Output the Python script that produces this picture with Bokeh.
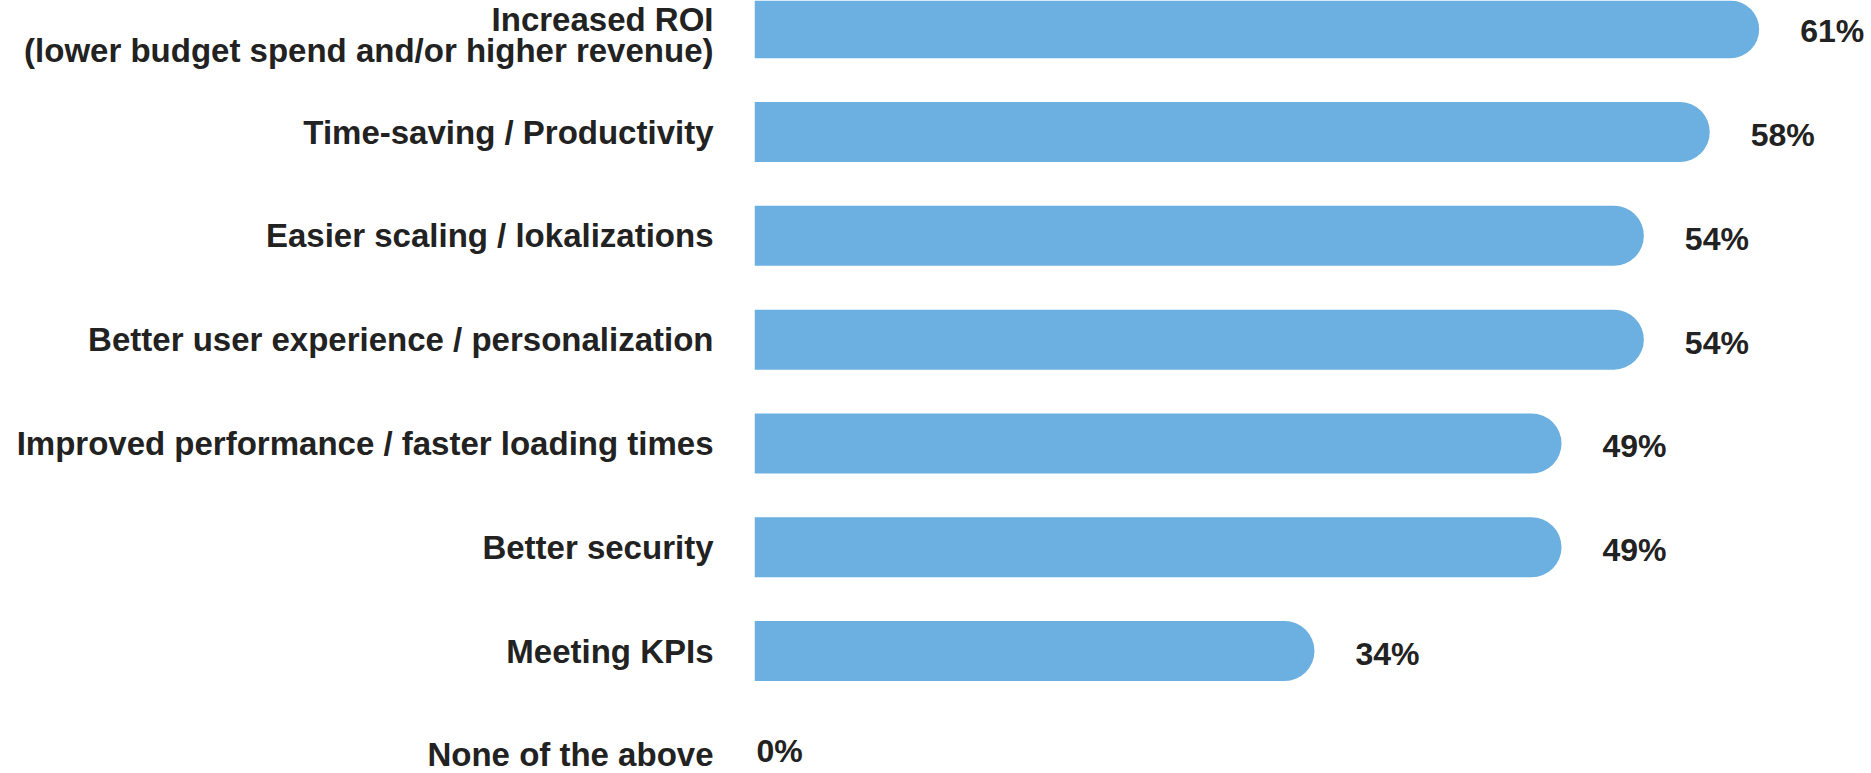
from bokeh.plotting import figure
from bokeh.models import ColumnDataSource, Range1d, FixedTicker
from bokeh.core.properties import value
from bokeh.embed import file_html
from bokeh.resources import INLINE

categories = [
    "Increased ROI\n(lower budget spend and/or higher revenue)",
    "Time-saving / Productivity",
    "Easier scaling / lokalizations",
    "Better user experience / personalization",
    "Improved performance / faster loading times",
    "Better security",
    "Meeting KPIs",
    "None of the above",
]
values = [61, 58, 54, 54, 49, 49, 34, 0]

positions = list(range(len(categories)))
labels = [f"{v}%" for v in values]
label_x_offsets = [41 if v > 0 else 2 for v in values]
label_y_offsets = [3 if v > 0 else -4 for v in values]

src = ColumnDataSource(dict(pos=positions, value=values, label=labels,
                            xoff=label_x_offsets, yoff=label_y_offsets))

FONT = "Liberation Sans"
TEXT_COLOR = "#222222"
BAR_COLOR = "#6cb0e1"

p = figure(
    width=1870, height=772,
    x_range=Range1d(0, 67.76),
    y_range=Range1d(7.17, -0.267),
    output_backend="svg", toolbar_location=None,
    min_border_left=754, min_border_right=0, min_border_top=0, min_border_bottom=0,
)
p.outline_line_color = None
p.grid.visible = False
p.xaxis.visible = False

yax = p.yaxis[0]
yax.ticker = FixedTicker(ticks=positions)
yax.major_label_overrides = {i: c for i, c in zip(positions, categories)}
yax.axis_line_color = None
yax.major_tick_line_color = None
yax.minor_tick_line_color = None
yax.major_tick_out = 0
yax.major_tick_in = 0
yax.major_label_standoff = 41
yax.major_label_text_font = FONT
yax.major_label_text_font_style = "bold"
yax.major_label_text_font_size = "33px"
yax.major_label_text_line_height = 0.85
yax.major_label_text_color = TEXT_COLOR

p.hbar(y="pos", left=0, right="value", height=0.578, source=src,
       fill_color=BAR_COLOR, line_color=None, border_radius=(0, 30, 30, 0))

p.text(x="value", y="pos", text="label", source=src, x_offset="xoff", y_offset="yoff",
       text_font=value(FONT), text_font_style="bold", text_font_size="32px",
       text_color=TEXT_COLOR, text_align="left", text_baseline="middle")

open("out.html", "w").write(file_html(p, INLINE))
